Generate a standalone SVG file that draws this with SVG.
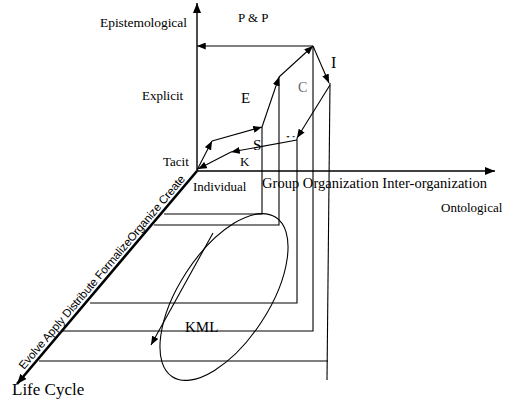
<svg xmlns="http://www.w3.org/2000/svg" width="521" height="411" viewBox="0 0 521 411">
<style>
.ln{stroke:#000;stroke-width:1.1;fill:none}
.ax{stroke:#000;stroke-width:1.4;fill:none}
.t{font-family:"Liberation Serif","Times New Roman",serif;fill:#000}
.s{font-family:"Liberation Sans",Arial,sans-serif;fill:#000}
</style>
<defs>
<marker id="ah" viewBox="0 0 10 8" refX="10" refY="4" markerWidth="9" markerHeight="7" markerUnits="userSpaceOnUse" orient="auto">
<path d="M0,0 L10,4 L0,8 Z" fill="#000"/>
</marker>
<marker id="ahb" viewBox="0 0 10 8" refX="10" refY="4" markerWidth="10" markerHeight="8" markerUnits="userSpaceOnUse" orient="auto">
<path d="M0,0 L10,4 L0,8 Z" fill="#000"/>
</marker>
<clipPath id="uclip"><rect x="285" y="134" width="11" height="3.5"/></clipPath>
</defs>
<rect width="521" height="411" fill="#fff"/>
<g id="axes">
<line class="ax" x1="197" y1="171" x2="197" y2="3" marker-end="url(#ahb)"/>
<line class="ax" x1="197" y1="171" x2="495" y2="171" marker-end="url(#ahb)"/>
<line x1="197" y1="171" x2="17" y2="384" stroke="#000" stroke-width="2.6" marker-end="url(#ahb)"/>
</g>
<g id="guides">
<polyline class="ln" points="164,214 262,214 262,127"/>
<polyline class="ln" points="154,225 279,225 279,77"/>
<polyline class="ln" points="90,303 297,303 297,138"/>
<polyline class="ln" points="62,331 313,331 313,46"/>
<line class="ln" x1="39" y1="361" x2="328" y2="361"/>
<line class="ln" x1="330" y1="83" x2="327" y2="380"/>
</g>
<g id="connectors">
<line class="ln" x1="197" y1="170" x2="212" y2="141" marker-end="url(#ah)"/>
<line class="ln" x1="212" y1="141" x2="262" y2="127" marker-end="url(#ah)"/>
<line class="ln" x1="262" y1="127" x2="279" y2="77" marker-end="url(#ah)"/>
<line class="ln" x1="279" y1="77" x2="313" y2="46" marker-end="url(#ah)"/>
<line class="ln" x1="313" y1="46" x2="197" y2="46" marker-end="url(#ah)"/>
<line class="ln" x1="313" y1="46" x2="329" y2="83" marker-end="url(#ah)"/>
<line class="ln" x1="330" y1="85" x2="297" y2="138" marker-end="url(#ah)"/>
<line class="ln" x1="297" y1="140" x2="231" y2="152" marker-end="url(#ah)"/>
<line class="ln" x1="231" y1="152" x2="198" y2="169" marker-end="url(#ah)"/>
<line class="ln" x1="213" y1="233" x2="151" y2="345" marker-end="url(#ah)"/>
</g>
<g id="kml">
<ellipse class="ln" cx="224" cy="297" rx="95" ry="45" transform="rotate(-57 224 297)"/>
<text class="t" x="185" y="332" font-size="15">KML</text>
</g>
<g id="labels">
<text class="t" x="100" y="27" font-size="13.5" textLength="87">Epistemological</text>
<text class="t" x="238" y="22" font-size="13">P &amp; P</text>
<text class="t" x="331" y="68" font-size="16">I</text>
<text class="t" x="298" y="92" font-size="14" style="fill:#666">C</text>
<text class="t" x="142" y="100" font-size="13">Explicit</text>
<text class="t" x="241" y="103" font-size="15">E</text>
<text class="t" x="253" y="150" font-size="15">S</text>
<text class="t" x="286" y="144" font-size="13" clip-path="url(#uclip)">U</text>
<text class="t" x="240" y="166" font-size="13">K</text>
<text class="t" x="163" y="166" font-size="13">Tacit</text>
<text class="t" x="193" y="191" font-size="13">Individual</text>
<text class="t" x="262" y="188" font-size="14.5" textLength="225">Group Organization Inter-organization</text>
<text class="t" x="441" y="212" font-size="13">Ontological</text>
<text class="t" x="12" y="395" font-size="17">Life Cycle</text>
<text class="s" font-size="11.5" transform="translate(24,370) rotate(-49.7)" textLength="250">Evolve Apply Distribute FormalizeOrganize Create</text>
</g>
</svg>
